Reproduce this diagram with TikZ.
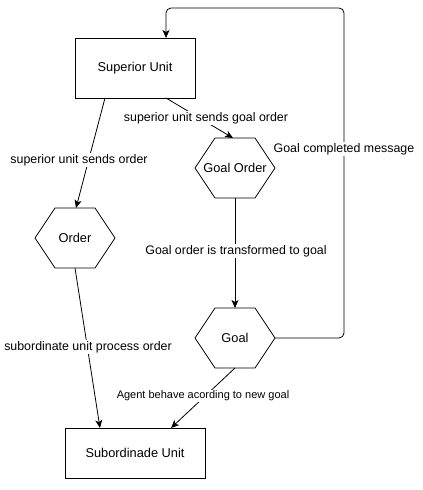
\documentclass[tikz,border=0pt]{standalone}
\usepackage{fontspec}
\setmainfont{Liberation Sans}
\usetikzlibrary{arrows.meta}
\newcommand{\hexdraw}[1]{\draw[line width=0.8pt] (#1.west) -- ([xshift=20pt]#1.north west) -- ([xshift=-20pt]#1.north east) -- (#1.east) -- ([xshift=-20pt]#1.south east) -- ([xshift=20pt]#1.south west) -- cycle;}
\tikzset{
  unitbox/.style={draw, line width=0.8pt, minimum width=120pt, minimum height=60pt, inner sep=0pt, outer sep=0pt, font=\fontsize{12.8pt}{15pt}\selectfont},
  hexbox/.style={minimum width=80pt, minimum height=60pt, inner sep=0pt, outer sep=0pt, font=\fontsize{12.8pt}{15pt}\selectfont},
  conn/.style={line width=0.8pt, -{Stealth[length=8pt,width=7pt,inset=2pt]}},
  elabel/.style={fill=white, inner sep=1pt, font=\fontsize{12.4pt}{14pt}\selectfont},
  slabel/.style={fill=white, inner sep=1pt, font=\fontsize{11pt}{13pt}\selectfont}
}
\begin{document}
\begin{tikzpicture}[x=1pt,y=-1pt]
\useasboundingbox (0,0) rectangle (423,490);
\node[unitbox] (su) at (135,68) {Superior Unit};
\node[unitbox, minimum width=140pt, minimum height=50pt] (sub) at (135,453) {Subordinade Unit};
\node[hexbox] (ord) at (75,238) {Order};
\node[hexbox] (go) at (235,168) {Goal Order};
\node[hexbox] (goal) at (235,338) {Goal};
\hexdraw{ord}
\hexdraw{go}
\hexdraw{goal}
\coordinate (tr) at (344,8);
\coordinate (tl) at (166,8);
\draw[conn] ([xshift=-30pt]su.south) -- ([xshift=1pt]ord.north);
\draw[conn] ([xshift=31pt]su.south) -- ([xshift=-2pt]go.north);
\draw[conn] (go.south) -- (goal.north);
\draw[conn] (ord.south) -- ([xshift=-35pt]sub.north);
\draw[conn] (goal.south) -- ([xshift=36pt]sub.north);
\draw[conn, rounded corners=5pt] (goal.east) -- (goal.east -| tr) -- (tr) -- (tl) -- ([xshift=31pt]su.north);
\node[elabel] (l1) at (79,160) {superior unit sends order};
\node[elabel] (l2) at (206,118) {superior unit sends goal order};
\node[elabel] (l3) at (344,149) {Goal completed message};
\node[elabel] (l4) at (236,251) {Goal order is transformed to goal};
\node[elabel] (l5) at (88,347) {subordinate unit process order};
\node[slabel] (l6) at (203,396) {Agent behave acording to new goal};
\end{tikzpicture}
\end{document}
